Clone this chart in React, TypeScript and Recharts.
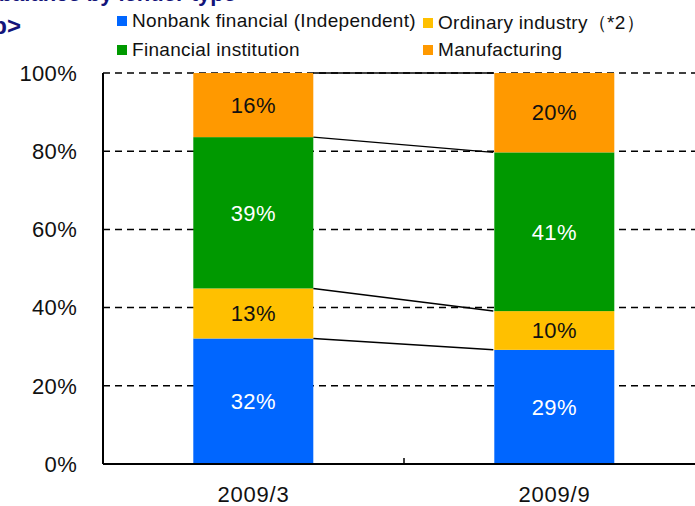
import React from 'react';
import { BarChart, Bar, XAxis, YAxis, CartesianGrid, LabelList } from 'recharts';

const categories = ['2009/3', '2009/9'];
const nonbank = [32.1, 29.2];
const ordinary = [12.8, 9.9];
const financial = [38.7, 40.6];
const manufacturing = [16.4, 20.3];
const yTicks = [0, 20, 40, 60, 80, 100];

const seriesNames = ['Nonbank financial (Independent)', 'Ordinary industry（*2）', 'Financial institution', 'Manufacturing'];
const colors = ['#0066ff', '#ffc000', '#009900', '#ff9900'];
const stackOrder = [nonbank, ordinary, financial, manufacturing];

const data = categories.map((c, i) => ({
  name: c,
  nonbank: nonbank[i],
  ordinary: ordinary[i],
  financial: financial[i],
  manufacturing: manufacturing[i],
}));

const FONT = '"Liberation Sans", Arial, sans-serif';

// cumulative top of a series (stack position) for a category
const stackTop = (level: number, cat: number) =>
  stackOrder.slice(0, level + 1).reduce((acc, s) => acc + s[cat], 0);

// segment with a connector line from its top-right corner to the next bar's segment top-left
const makeShape = (level: number) => (props: any) => {
  const { x, y, width, height, fill, index } = props;
  let connector = null;
  if (index === 0) {
    const k = height / stackOrder[level][0];
    const base = y + stackTop(level, 0) * k;
    const y2 = base - stackTop(level, 1) * k;
    const band = width / 0.4; // barCategoryGap 30%
    connector = <line x1={x + width} y1={y} x2={x + band} y2={y2} stroke="#000" strokeWidth={1.5} />;
  }
  return (
    <g>
      <rect x={x} y={y} width={width} height={height} fill={fill} />
      {connector}
    </g>
  );
};

const XTick = (props: any) => {
  const { x, y, payload, index } = props;
  return (
    <g>
      <text x={x} y={y} dy={14} textAnchor="middle" fill="#111" fontSize={22} letterSpacing={0.8} fontFamily={FONT}>
        {payload.value}
      </text>
      {index === 0 && (
        <line x1={x + payload.offset} x2={x + payload.offset} y1={y - 24} y2={y - 30} stroke="#000" strokeWidth={1.5} />
      )}
    </g>
  );
};

const pct = (v: any) => `${Math.round(Number(v))}%`;

export default function App() {
  const legendRows = [[0, 1], [2, 3]];
  return (
    <div style={{ position: 'absolute', left: 0, top: 0, width: 695, height: 506, overflow: 'hidden', background: '#fff', fontFamily: FONT }}>
      <div style={{ position: 'absolute', top: -19, left: -60, color: '#14147a', fontWeight: 'bold', fontSize: 22, whiteSpace: 'nowrap' }}>
        Loan balance by lender type
      </div>
      <div style={{ position: 'absolute', top: 12, right: 674, color: '#14147a', fontWeight: 'bold', fontSize: 24, whiteSpace: 'nowrap' }}>
        &lt;By group&gt;
      </div>
      {legendRows.map((row, r) =>
        row.map((si, c) => (
          <div
            key={si}
            style={{
              position: 'absolute',
              left: c === 0 ? 117 : 423,
              top: r === 0 ? 10 : 39,
              display: 'flex',
              alignItems: 'center',
              fontSize: 19,
              letterSpacing: 0.3,
              color: '#111',
              whiteSpace: 'nowrap',
            }}
          >
            <span style={{ display: 'inline-block', width: 10, height: 10, background: colors[si], marginRight: 5 }} />
            {seriesNames[si]}
          </div>
        ))
      )}
      <BarChart
        width={720}
        height={506}
        data={data}
        margin={{ top: 73, right: 15, left: 0, bottom: 0 }}
        barCategoryGap="30%"
        style={{ position: 'absolute', left: 0, top: 0 }}
      >
        <CartesianGrid vertical={false} stroke="#000" strokeWidth={1.5} strokeDasharray="7 5" />
        <XAxis
          dataKey="name"
          height={42}
          tickSize={0}
          tickMargin={24}
          tickLine={false}
          axisLine={{ stroke: '#000', strokeWidth: 2 }}
          tick={<XTick />}
          interval={0}
        />
        <YAxis
          width={103}
          domain={[0, 100]}
          ticks={yTicks}
          tickFormatter={(v) => `${v}%`}
          tickSize={0}
          tickMargin={26}
          tickLine={false}
          axisLine={{ stroke: '#000', strokeWidth: 2 }}
          tick={{ fill: '#111', fontSize: 22, letterSpacing: 0.3, fontFamily: FONT }}
        />
        <Bar dataKey="nonbank" stackId="a" fill={colors[0]} shape={makeShape(0)} isAnimationActive={false}>
          <LabelList dataKey="nonbank" position="center" formatter={pct} fill="#fff" fontSize={22} letterSpacing={0.3} fontFamily={FONT} />
        </Bar>
        <Bar dataKey="ordinary" stackId="a" fill={colors[1]} shape={makeShape(1)} isAnimationActive={false}>
          <LabelList dataKey="ordinary" position="center" formatter={pct} fill="#111" fontSize={22} letterSpacing={0.3} fontFamily={FONT} />
        </Bar>
        <Bar dataKey="financial" stackId="a" fill={colors[2]} shape={makeShape(2)} isAnimationActive={false}>
          <LabelList dataKey="financial" position="center" formatter={pct} fill="#fff" fontSize={22} letterSpacing={0.3} fontFamily={FONT} />
        </Bar>
        <Bar dataKey="manufacturing" stackId="a" fill={colors[3]} shape={makeShape(3)} isAnimationActive={false}>
          <LabelList dataKey="manufacturing" position="center" formatter={pct} fill="#111" fontSize={22} letterSpacing={0.3} fontFamily={FONT} />
        </Bar>
      </BarChart>
    </div>
  );
}
